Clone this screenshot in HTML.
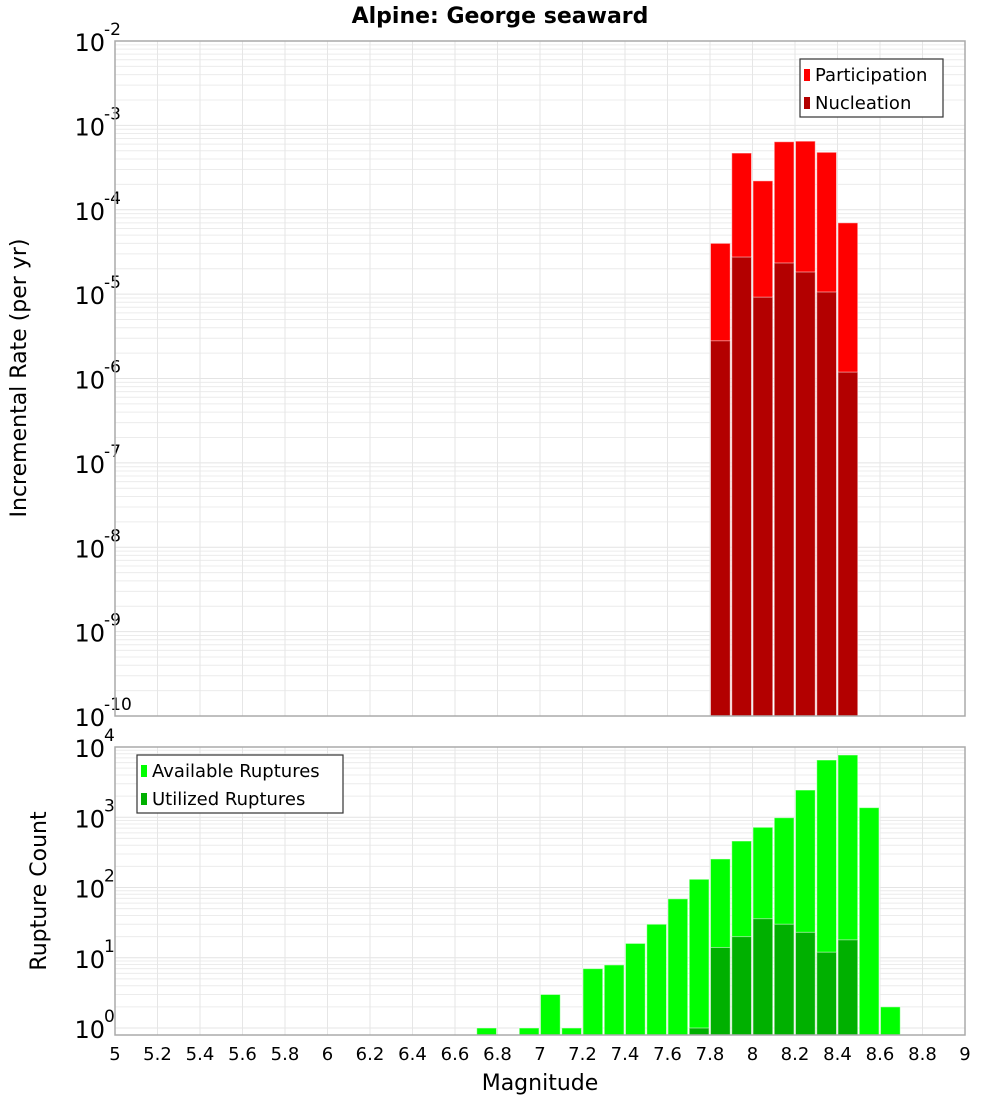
<!DOCTYPE html>
<html><head><meta charset="utf-8"><style>
body{margin:0;background:#fff;}
svg text{font-family:"DejaVu Sans","Liberation Sans",sans-serif;fill:#000;}
</style></head><body>
<svg id="chart" width="1000" height="1100" xmlns="http://www.w3.org/2000/svg">
<text x="500" y="23" text-anchor="middle" font-size="22" font-weight="bold">Alpine: George seaward</text>
<g id="top"></g>
<g id="bot"></g>
<text transform="translate(26,378) rotate(-90)" text-anchor="middle" font-size="22">Incremental Rate (per yr)</text>
<text transform="translate(46,891) rotate(-90)" text-anchor="middle" font-size="22">Rupture Count</text>
<text x="540" y="1090" text-anchor="middle" font-size="22">Magnitude</text>
</svg>
<script>
const topBins = [7.85,7.95,8.05,8.15,8.25,8.35,8.45];
const participation = [4.0e-5,4.7e-4,2.2e-4,6.4e-4,6.5e-4,4.8e-4,7.0e-5];
const nucleation = [2.8e-6,2.75e-5,9.2e-6,2.34e-5,1.83e-5,1.06e-5,1.19e-6];
const botBins = [6.75,6.95,7.05,7.15,7.25,7.35,7.45,7.55,7.65,7.75,7.85,7.95,8.05,8.15,8.25,8.35,8.45,8.55,8.65];
const available = [1,1,3,1,7,7.9,16,30,69,131,255,459,720,985,2440,6530,7700,1370,2];
const utilBins = [7.75,7.85,7.95,8.05,8.15,8.25,8.35,8.45];
const utilized = [1,14,20,36,30,23,12,18];
const xTicks = [5,5.2,5.4,5.6,5.8,6,6.2,6.4,6.6,6.8,7,7.2,7.4,7.6,7.8,8,8.2,8.4,8.6,8.8,9];
const topDecades = [-10,-9,-8,-7,-6,-5,-4,-3,-2];
const botDecades = [0,1,2,3,4];

const NS="http://www.w3.org/2000/svg";
function mk(p,tag,a){const e=document.createElementNS(NS,tag);for(const k in a)e.setAttribute(k,a[k]);p.appendChild(e);return e;}
const X0=115,X1=965;
const xs=m=>X0+(m-5)/4*(X1-X0);
const topY=v=>41+(-2-Math.log10(v))*(675/8);
const botY=v=>1028-Math.log10(v)*70.25;

function panel(g,y0,y1,yf,decs,minV){
  mk(g,'rect',{x:X0,y:y0,width:X1-X0,height:y1-y0,fill:'#fff'});
  for(let i=0;i<decs.length;i++){
    for(let k=1;k<10;k++){
      const v=k*Math.pow(10,decs[i]);const y=yf(v);
      if(y<y0||y>y1)continue;
      const l=mk(g,'line',{x1:X0,x2:X1,y1:y,y2:y,stroke:k==1?'#e4e4e4':'#ececec','stroke-width':1});
      
      if(i==decs.length-1)break;
    }
  }
  xTicks.forEach(t=>{const l=mk(g,'line',{x1:xs(t),x2:xs(t),y1:y0,y2:y1,stroke:'#e6e6e6'});
    });
  decs.forEach(d=>{const y=yf(Math.pow(10,d));
    const t=mk(g,'text',{x:105,y:y+10,'text-anchor':'end','font-size':24});
    
    t.textContent='10';
    const s=mk(g,'text',{x:104,y:y-6,'font-size':17});
    
    s.textContent=String(d);
  });
}
function bars(g,bins,vals,yf,ybot,color,name){
  const w=(X1-X0)/40;
  bins.forEach((b,i)=>{const yt=yf(vals[i]);
    const r=mk(g,'rect',{x:xs(b)-w/2+0.5,y:yt,width:w-1.5,height:ybot-yt,fill:color,stroke:'rgba(255,255,255,0.5)','stroke-width':1});
    });
}
function frame(g,y0,y1){mk(g,'rect',{x:X0,y:y0,width:X1-X0,height:y1-y0,fill:'none',stroke:'#aaa','stroke-width':1.5});}
function legend(g,x,y,w,items){
  const b=mk(g,'rect',{x:x,y:y,width:w,height:58,fill:'#fff',stroke:'#333','stroke-width':1.2});
  
  items.forEach((it,i)=>{
    const s=mk(g,'rect',{x:x+4,y:y+10+i*28,width:6,height:12,fill:it[1]});
    
    const t=mk(g,'text',{x:x+15,y:y+22+i*28,'font-size':18});
    
    t.textContent=it[0];});
}
const gt=document.getElementById('top'),gb=document.getElementById('bot');
panel(gt,41,716,topY,topDecades);
bars(gt,topBins,participation,topY,716,'#ff0000','participation-bar');
bars(gt,topBins,nucleation,topY,716,'#b30000','nucleation-bar');
frame(gt,41,716);
legend(gt,800,59,143,[['Participation','#ff0000'],['Nucleation','#b30000']]);
panel(gb,747,1035,botY,botDecades);
bars(gb,botBins,available,botY,1035,'#00ff00','available-bar');
bars(gb,utilBins,utilized,botY,1035,'#00b000','utilized-bar');
frame(gb,747,1035);
legend(gb,137,755,206,[['Available Ruptures','#00ff00'],['Utilized Ruptures','#00b000']]);
xTicks.forEach(t=>{const e=mk(gb,'text',{x:xs(t),y:1060,'text-anchor':'middle','font-size':18});
  
  e.textContent=String(t);});
</script>
</body></html>
